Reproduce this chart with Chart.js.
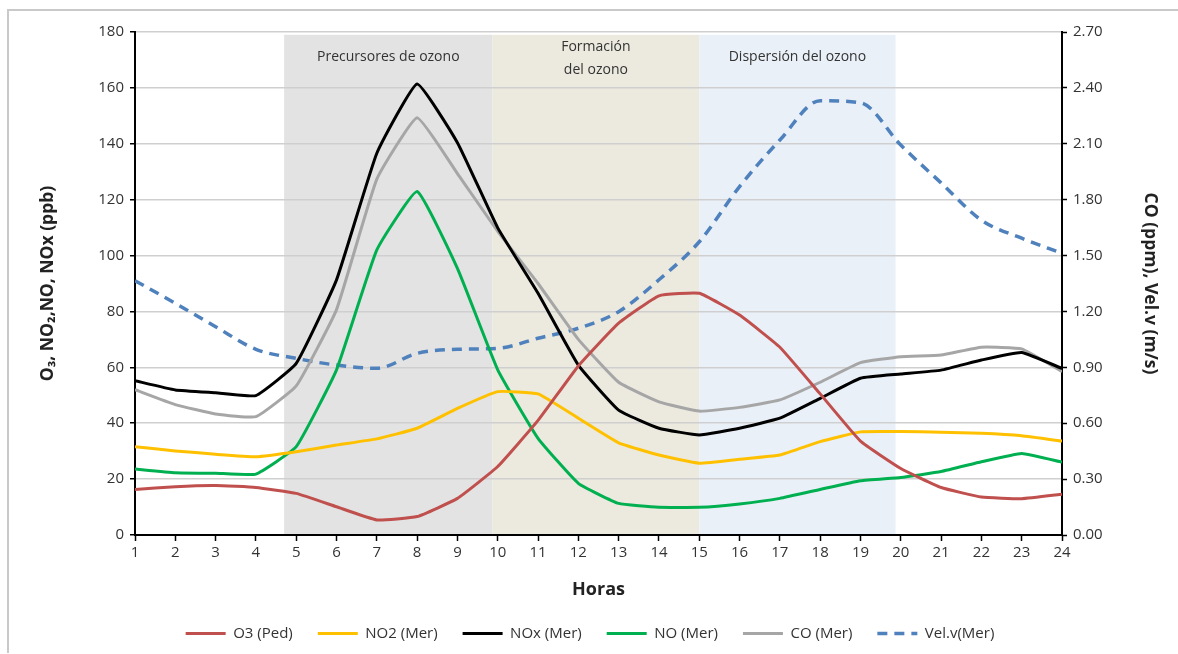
<!DOCTYPE html>
<html>
<head>
<meta charset="utf-8">
<script src="https://cdn.jsdelivr.net/npm/chart.js@4.4.1/dist/chart.umd.min.js"></script>
<style>
  html, body { margin: 0; padding: 0; background: #fff; }
  #Marco { position: absolute; left: 7px; top: 9px; width: 1171px; height: 644px;
           border-left: 2px solid #c9c9c9; border-top: 2px solid #c9c9c9; box-sizing: border-box; }
  #Caja { position: absolute; left: 0; top: 0; width: 1178px; height: 654px; }
</style>
</head>
<body>
<div id="Marco"></div>
<div id="Caja"><canvas id="Grafico" width="1178" height="654"></canvas></div>
<script>
const Horas = [1,2,3,4,5,6,7,8,9,10,11,12,13,14,15,16,17,18,19,20,21,22,23,24];

// ppb (eje izquierdo)
const O3Ped  = [16.3,17.3,17.7,17.0,14.9,10.1,5.4,6.6,13.1,24.5,41.0,60.5,75.8,85.6,86.5,78.7,67.2,50.5,33.6,23.8,17.0,13.6,13.0,14.6];
const NO2Mer = [31.6,30.1,28.9,28.0,29.8,32.2,34.4,38.2,45.3,51.3,50.5,41.8,33.0,28.6,25.7,27.1,28.6,33.4,36.9,37.0,36.8,36.4,35.5,33.6];
const NOxMer = [55.2,51.9,50.9,49.9,61.4,91.3,136.6,161.4,140.4,109.9,86.5,60.8,44.7,38.2,35.8,38.2,41.8,48.9,56.1,57.6,59.0,62.6,65.3,59.6];
const NOMer  = [23.6,22.3,22.1,21.8,31.6,59.1,102.0,122.9,95.4,59.1,34.6,18.5,11.3,9.9,9.9,11.1,13.1,16.3,19.4,20.6,22.7,26.2,29.2,26.1];

// ppm y m/s (eje derecho)
const COMer  = [0.78,0.70,0.65,0.635,0.80,1.21,1.91,2.24,1.94,1.63,1.35,1.05,0.82,0.715,0.665,0.685,0.725,0.82,0.925,0.957,0.966,1.008,0.999,0.877];
const VelMer = [1.365,1.244,1.118,0.997,0.948,0.912,0.895,0.975,0.997,1.002,1.056,1.11,1.199,1.37,1.574,1.87,2.12,2.331,2.32,2.093,1.89,1.69,1.593,1.512];

// Franjas de fondo
const FranjaDesde  = [4.70, 9.87, 15.0];
const FranjaHasta  = [9.87, 15.0, 19.87];
const FranjaColor  = ['#e3e3e3', '#ece9df', '#eaf0f8'];
const FranjaTexto  = [['Precursores de ozono'], ['Formación', 'del ozono'], ['Dispersión del ozono']];

const Fuente = "'Open Sans', 'Liberation Sans', sans-serif";
const ColorTexto = '#333333';

const PluginFranjas = {
  id: 'Franjas',
  beforeDraw(Chart) {
    const { ctx, scales: { x, y } } = Chart;
    ctx.save();
    FranjaDesde.forEach((D, I) => {
      const X1 = x.getPixelForValue(D);
      const X2 = x.getPixelForValue(FranjaHasta[I]);
      const Y1 = y.getPixelForValue(179);
      const Y2 = y.getPixelForValue(0);
      ctx.fillStyle = FranjaColor[I];
      ctx.fillRect(X1, Y1, X2 - X1, Y2 - Y1);
      ctx.fillStyle = ColorTexto;
      ctx.font = '14px ' + Fuente;
      ctx.textAlign = 'center';
      ctx.textBaseline = 'middle';
      const Lineas = FranjaTexto[I];
      const YBase = Lineas.length > 1 ? y.getPixelForValue(174.5) : y.getPixelForValue(171);
      Lineas.forEach((L, J) => ctx.fillText(L, (X1 + X2) / 2, YBase + J * 23));
    });
    ctx.restore();
  }
};

const Serie = (Etiqueta, Datos, Color, Eje, Extra = {}) => ({
  label: Etiqueta,
  data: Datos.map((V, I) => ({ x: Horas[I], y: V })),
  borderColor: Color,
  backgroundColor: Color,
  borderWidth: 3,
  pointRadius: 0,
  pointStyle: 'line',
  tension: 0.12,
  yAxisID: Eje,
  ...Extra
});

// la leyenda toma el trazo de la linea (con guiones) y no el del punto
const EtiquetasLeyenda = Chart => {
  const Base = window.Chart.defaults.plugins.legend.labels.generateLabels(Chart);
  return Base.map(E => {
    const D = Chart.data.datasets[E.datasetIndex];
    return { ...E, lineDash: D.borderDash || [], lineWidth: D.borderWidth, strokeStyle: D.borderColor };
  });
};

new Chart(document.getElementById('Grafico').getContext('2d'), {
  type: 'line',
  data: {
    datasets: [
      Serie('O3 (Ped)',  O3Ped,  '#c0504d', 'y'),
      Serie('NO2 (Mer)', NO2Mer, '#ffc000', 'y'),
      Serie('NOx (Mer)', NOxMer, '#000000', 'y'),
      Serie('NO (Mer)',  NOMer,  '#00b050', 'y'),
      Serie('CO (Mer)',  COMer,  '#a6a6a6', 'y1'),
      Serie('Vel.v(Mer)', VelMer, '#4f81bd', 'y1', { borderDash: [10, 7], borderWidth: 3.5, cubicInterpolationMode: 'monotone' })
    ]
  },
  options: {
    responsive: false,
    animation: false,
    layout: { padding: { left: 10, right: 8, top: 32, bottom: 3 } },
    plugins: {
      tooltip: { enabled: false },
      legend: {
        position: 'bottom',
        labels: {
          usePointStyle: true,
          pointStyleWidth: 40,
          padding: 25,
          color: ColorTexto,
          font: { family: Fuente, size: 15 },
          generateLabels: EtiquetasLeyenda
        }
      }
    },
    scales: {
      x: {
        type: 'linear',
        min: 1, max: 24,
        afterFit: S => { S.height = 66; },
        ticks: { stepSize: 1, color: ColorTexto, font: { family: Fuente, size: 15 }, padding: 3 },
        grid: { drawOnChartArea: false, color: '#000', tickLength: 6, tickWidth: 1.5 },
        border: { color: '#000', width: 2 },
        title: { display: true, text: 'Horas', color: '#222', font: { family: Fuente, size: 18, weight: 'bold' }, padding: { top: 6, bottom: 0 } }
      },
      y: {
        position: 'left',
        min: 0, max: 180,
        afterFit: S => { S.width = 125; },
        ticks: { stepSize: 20, color: ColorTexto, font: { family: Fuente, size: 15 }, padding: 6 },
        grid: { color: '#cfcfcf', lineWidth: 1.5, tickColor: '#000', tickLength: 5, tickWidth: 1.5 },
        border: { color: '#000', width: 2 },
        title: { display: true, text: 'O₃, NO₂,NO, NOx (ppb)', color: '#222', font: { family: Fuente, size: 17.5, weight: 'bold' }, padding: { top: 28, bottom: 0 } }
      },
      y1: {
        position: 'right',
        min: 0, max: 2.7,
        afterFit: S => { S.width = 108; },
        ticks: { stepSize: 0.3, color: ColorTexto, font: { family: Fuente, size: 15 }, padding: 6, callback: V => Number(V).toFixed(2) },
        grid: { drawOnChartArea: false, color: '#000', tickLength: 5, tickWidth: 1.5 },
        border: { color: '#000', width: 2 },
        title: { display: true, text: 'CO (ppm), Vel.v (m/s)', color: '#222', font: { family: Fuente, size: 17.5, weight: 'bold' }, padding: { top: 10, bottom: 0 } }
      }
    }
  },
  plugins: [PluginFranjas]
});
</script>
</body>
</html>
